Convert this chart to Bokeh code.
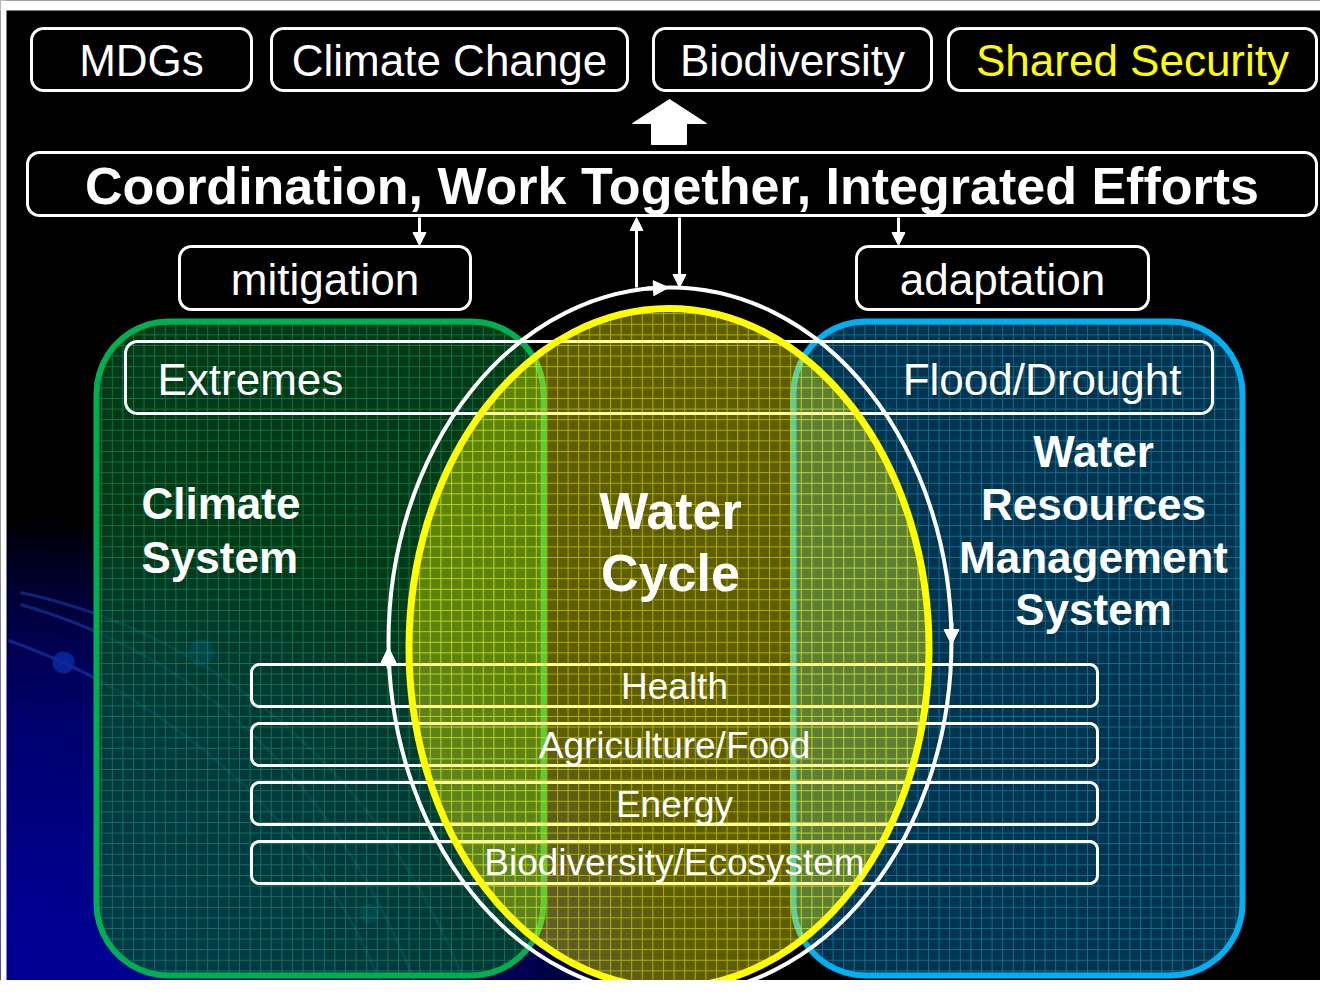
import numpy as np
from bokeh.plotting import figure
from bokeh.models import Range1d, Arrow, NormalHead
from bokeh.core.properties import value
from bokeh.embed import file_html
from bokeh.resources import INLINE

# ---------------- content ----------------
top_labels = ["MDGs", "Climate Change", "Biodiversity", "Shared Security"]
top_colors = ["white", "white", "white", "#FFFF00"]
coord_label = "Coordination, Work Together, Integrated Efforts"
side_labels = ["mitigation", "adaptation"]
band_labels = ["Extremes", "Flood/Drought"]
sector_labels = ["Health", "Agriculture/Food", "Energy", "Biodiversity/Ecosystem"]
climate_lines = ["Climate", "System"]
water_lines = ["Water", "Cycle"]
wrm_lines = ["Water", "Resources", "Management", "System"]

# ---------------- layout (pixel-like units, y downward) ----------------
TOP_BOX_X = [(31, 251), (271, 627), (653, 931), (948, 1316)]
TOP_BOX_Y = (28, 90)
COORD_BOX = (27, 152, 1316, 215)
SIDE_BOX_X = [(179, 470), (856, 1148)]
SIDE_BOX_Y = (246, 309)
GREEN_BOX = (96, 321, 543, 975)
BLUE_BOX = (793, 321, 1242, 975)
BAND_BOX = (125, 341, 1212, 413)
SECTOR_X = (251, 1097)
SECTOR_Y = [(664, 706), (723, 765), (782, 824), (841, 883)]
YELLOW_ELL = (668.5, 647.5, 520, 679)
WHITE_ELL = (669.5, 641, 563, 708)
FONT = "Liberation Sans"
GRID = 10.6


def rrect(x0, y0, x1, y1, r, n=12):
    xs, ys = [], []
    corners = [((x0 + r, y0 + r), np.pi, 1.5 * np.pi),
               ((x1 - r, y0 + r), 1.5 * np.pi, 2 * np.pi),
               ((x1 - r, y1 - r), 0.0, 0.5 * np.pi),
               ((x0 + r, y1 - r), 0.5 * np.pi, np.pi)]
    for (cx, cy), a0, a1 in corners:
        a = np.linspace(a0, a1, n)
        xs.extend(list(cx + r * np.cos(a)))
        ys.extend(list(cy + r * np.sin(a)))
    return xs, ys


p = figure(width=1320, height=980, x_range=Range1d(0, 1320), y_range=Range1d(980, 0),
           output_backend="svg", toolbar_location=None, min_border=0,
           x_axis_type=None, y_axis_type=None,
           background_fill_color="black", border_fill_color="black")
p.grid.visible = False
p.outline_line_color = None

# background blue glow (bottom-left), smooth stack of translucent ellipses
N = 90
ks = np.arange(N, 0, -1)
p.ellipse(x=[0] * N, y=[1000] * N, width=list(2 * 700 * ks / N), height=list(2 * 480 * ks / N),
          fill_color="#0000b4", fill_alpha=0.027, line_color=None)
# faint decorative orbits
p.bezier(x0=[20, 20, 8], y0=[592, 604, 640], x1=[470, 420, 385], y1=[996, 996, 996],
         cx0=[200, 180, 180], cy0=[630, 650, 700], cx1=[380, 330, 330], cy1=[760, 760, 840],
         line_color="#1f4fc8", line_alpha=0.45, line_width=3)
p.circle(x=[63, 201, 369], y=[662, 652, 913], radius=[11, 13, 10],
         fill_color="#0a2aa8", fill_alpha=0.8, line_color=None)

# climate system box (green) & water resources box (blue)
gx, gy = rrect(*GREEN_BOX, 72)
bx, by = rrect(*BLUE_BOX, 72)
p.patch(gx, gy, fill_color="#005a24", fill_alpha=0.64, line_color="#00B050", line_width=6,
        hatch_pattern="+", hatch_scale=GRID, hatch_color="#2aa868", hatch_alpha=0.5, hatch_weight=1)
p.patch(bx, by, fill_color="#003a58", fill_alpha=0.9, line_color="#00B0F0", line_width=6,
        hatch_pattern="+", hatch_scale=GRID, hatch_color="#2a98c8", hatch_alpha=0.55, hatch_weight=1)

# outline bands
bbx, bby = rrect(*BAND_BOX, 12)
p.patch(bbx, bby, fill_alpha=0, line_color="white", line_width=3)
sxs, sys_ = [], []
for (y0, y1) in SECTOR_Y:
    a, b = rrect(SECTOR_X[0], y0, SECTOR_X[1], y1, 8)
    sxs.append(a)
    sys_.append(b)
p.patches(sxs, sys_, fill_alpha=0, line_color="white", line_width=3)

# water cycle ellipse (translucent yellow)
cx, cy, w, h = YELLOW_ELL
p.ellipse(x=[cx], y=[cy], width=[w], height=[h], fill_color="#FFFF00", fill_alpha=0.37,
          line_color=None, hatch_pattern="+", hatch_scale=GRID, hatch_color="#FFFF00",
          hatch_alpha=0.5, hatch_weight=1)
p.ellipse(x=[cx], y=[cy], width=[w], height=[h], fill_alpha=0, line_color="#FFFF00", line_width=7)

# white circulation ellipse
wx, wy, ww, wh = WHITE_ELL
p.ellipse(x=[wx], y=[wy], width=[ww], height=[wh], fill_alpha=0, line_color="white", line_width=4)

# top boxes
txs, tys = [], []
for (x0, x1) in TOP_BOX_X:
    a, b = rrect(x0, TOP_BOX_Y[0], x1, TOP_BOX_Y[1], 12)
    txs.append(a)
    tys.append(b)
for (x0, x1) in SIDE_BOX_X:
    a, b = rrect(x0, SIDE_BOX_Y[0], x1, SIDE_BOX_Y[1], 12)
    txs.append(a)
    tys.append(b)
a, b = rrect(*COORD_BOX, 12)
txs.append(a)
tys.append(b)
p.patches(txs, tys, fill_color="black", line_color="white", line_width=3)

# block arrow up
p.patch([669, 706, 686, 686, 651, 651, 632], [99, 123, 123, 144, 144, 123, 123],
        fill_color="white", line_color="white")

# white page border of the original slide image
p.quad(left=[0, 0], right=[1320, 6], top=[0, 0], bottom=[10, 980],
       fill_color="white", line_color=None)

# ---------------- texts ----------------
def txt(xs, ys, labels, size, color="white", bold=False, align="center"):
    p.text(x=xs, y=ys, text=labels, text_font=value(FONT), text_font_size=size,
           text_color=color, text_align=align, text_baseline="middle",
           text_font_style="bold" if bold else "normal")

txt([(a + b) / 2 for a, b in TOP_BOX_X], [60] * 4, top_labels, "44px", color=top_colors)
txt([671.5], [185], [coord_label], "52px", bold=True)
txt([(a + b) / 2 for a, b in SIDE_BOX_X], [279, 279], side_labels, "44px")
txt([157], [379], [band_labels[0]], "44px", align="left")
txt([1181], [379], [band_labels[1]], "44px", align="right")
txt([674] * 4, [686, 745, 804, 862], sector_labels, "37px")
txt([141] * 2, [503, 557], climate_lines, "44px", bold=True, align="left")
txt([670] * 2, [510, 572], water_lines, "52px", bold=True)
txt([1093] * 4, [451, 504, 557, 609], wrm_lines, "44px", bold=True)

# ---------------- arrows ----------------
def arrow(x0, y0, x1, y1, size=13, lw=3):
    p.add_layout(Arrow(end=NormalHead(size=size, fill_color="white", line_color="white", line_width=1),
                       x_start=x0, y_start=y0, x_end=x1, y_end=y1,
                       line_color="white", line_width=lw))

arrow(419, 217, 419, 245)
arrow(898, 217, 898, 245)
arrow(636, 287, 636, 217)
arrow(679, 217, 679, 287)
# arrowheads on the circulation ellipse
arrow(646, 288, 668, 287, size=15, lw=4)
arrow(388, 668, 388, 647, size=15, lw=4)
arrow(951, 622, 951, 644, size=15, lw=4)
arrow(692, 995, 672, 995, size=15, lw=4)

open("out.html", "w").write(file_html(p, INLINE))
